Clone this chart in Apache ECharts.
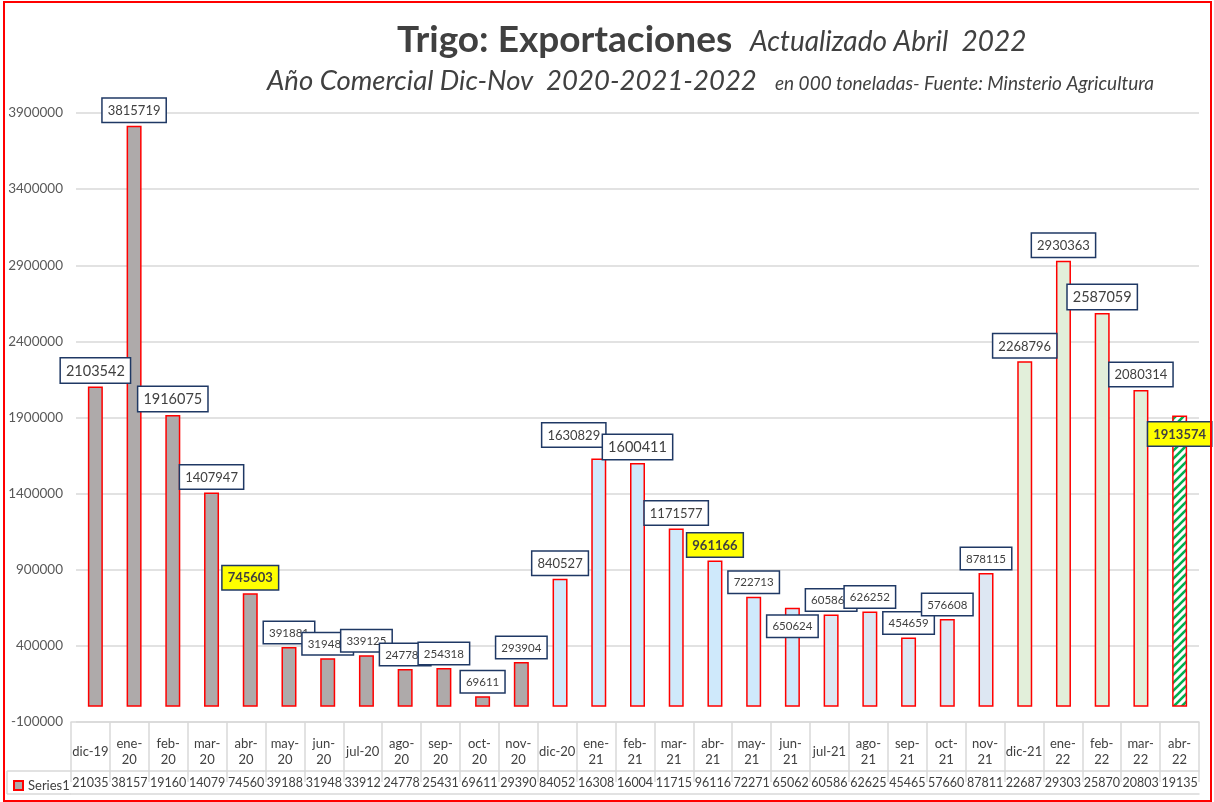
<!DOCTYPE html>
<html>
<head>
<meta charset="utf-8">
<script src="https://cdn.jsdelivr.net/npm/echarts@6/dist/echarts.min.js"></script>
<style>
html,body{margin:0;padding:0;background:#fff;}
#chart{width:1214px;height:802px;}
</style>
</head>
<body>
<div id="chart"></div>
<script>
// ---- data ----
const categories = ['dic-19','ene-20','feb-20','mar-20','abr-20','may-20','jun-20','jul-20','ago-20','sep-20','oct-20','nov-20',
  'dic-20','ene-21','feb-21','mar-21','abr-21','may-21','jun-21','jul-21','ago-21','sep-21','oct-21','nov-21',
  'dic-21','ene-22','feb-22','mar-22','abr-22'];
const values = [2103542,3815719,1916075,1407947,745603,391881,319483,339125,247785,254318,69611,293904,
  840527,1630829,1600411,1171577,961166,722713,650624,605863,626252,454659,576608,878115,
  2268796,2930363,2587059,2080314,1913574];
const seriesName = 'Series1';
const yTicks = { min: -100000, max: 3900000, interval: 500000 };

// ---- styles ----
const FONT = 'Lato, "Noto Sans", sans-serif';
const TXT = '#404040';
function fillFor(i) {
  if (i <= 11) return '#aeaaaa';
  if (i <= 18) return '#cfe9fb';
  if (i <= 23) return '#dde7f3';
  if (i <= 27) return '#e2efda';
  return null;
}
const big = [0, 2, 14, 26];
const medium = [1, 3, 12, 13, 15, 24, 25, 27];
const highlight = [4, 16, 28];
const labelTweaks = { 13: [-25, -8], 18: [0, 33], 28: [0, 34] };

// hatch pattern for the current (incomplete) month
const pc = document.createElement('canvas');
pc.width = 8; pc.height = 8;
const px = pc.getContext('2d');
px.fillStyle = '#ffffff'; px.fillRect(0, 0, 8, 8);
px.strokeStyle = '#00b050'; px.lineWidth = 2.6;
[[-8, 8, 8, -8], [0, 8, 8, 0], [0, 16, 16, 0]].forEach(function (l) {
  px.beginPath(); px.moveTo(l[0], l[1]); px.lineTo(l[2], l[3]); px.stroke();
});
const hatch = { image: pc, repeat: 'repeat' };

function labelFor(i) {
  let size = 11.5, lh = 14, pad = [4, 5, 3, 5];
  if (big.indexOf(i) >= 0) { size = 14.5; lh = 17; pad = [4, 5, 3, 5]; }
  else if (medium.indexOf(i) >= 0 || highlight.indexOf(i) >= 0) { size = 13; lh = 16; pad = [4, 5, 3, 5]; }
  const hl = highlight.indexOf(i) >= 0;
  return {
    show: true, position: 'top', distance: 4,
    offset: labelTweaks[i] || [0, 0],
    fontFamily: FONT, fontSize: size, lineHeight: lh,
    fontWeight: hl ? 'bold' : 'normal',
    color: TXT,
    backgroundColor: hl ? '#ffff00' : '#ffffff',
    borderColor: '#1f3864', borderWidth: 1.5,
    padding: pad
  };
}

const seriesData = values.map(function (v, i) {
  const f = fillFor(i);
  return { value: v, itemStyle: { color: f ? f : hatch }, label: labelFor(i) };
});
const tableValues = values.map(function (v) { return String(v).slice(0, 5); });

const gridLine = '#d9d9d9';
const chart = echarts.init(document.getElementById('chart'));
chart.setOption({
  animation: false,
  backgroundColor: '#ffffff',
  grid: [
    { left: 76, right: 15, top: 113, bottom: 80 },
    { left: 71, right: 15, top: 113, bottom: 80 }
  ],
  legend: {
    left: 8, top: 774, itemWidth: 9, itemHeight: 9, icon: 'rect',
    textStyle: { fontFamily: FONT, fontSize: 13, color: TXT },
    data: [seriesName]
  },
  xAxis: [
    { type: 'category', gridIndex: 0, data: categories, show: false },
    {
      type: 'category', gridIndex: 1, data: categories, position: 'bottom', offset: 12,
      axisLine: { show: true, lineStyle: { color: gridLine, width: 1.5 } },
      axisTick: { show: true, interval: 0, length: 60, lineStyle: { color: gridLine, width: 1.5 } },
      axisLabel: {
        interval: 0, margin: 18, verticalAlign: 'middle', fontFamily: FONT, fontSize: 13,
        lineHeight: 16, color: TXT,
        formatter: function (t) { return (t.indexOf('dic') === 0 || t.indexOf('jul') === 0) ? t : t.replace('-', '-\n'); }
      }
    },
    {
      type: 'category', gridIndex: 1, data: tableValues, position: 'bottom', offset: 49,
      axisLine: { show: true, lineStyle: { color: gridLine, width: 1.5 } },
      axisTick: { show: false },
      axisLabel: { interval: 0, margin: 12, verticalAlign: 'middle', fontFamily: FONT, fontSize: 12.5, color: TXT }
    },
    {
      type: 'category', gridIndex: 1, data: categories, position: 'bottom', offset: 72,
      axisLine: { show: true, lineStyle: { color: gridLine, width: 1.5 } },
      axisTick: { show: false }, axisLabel: { show: false }
    }
  ],
  yAxis: [
    {
      type: 'value', gridIndex: 0, min: yTicks.min, max: yTicks.max, interval: yTicks.interval,
      axisLine: { show: false }, axisTick: { show: false },
      splitLine: { lineStyle: { color: gridLine, width: 1.5 } },
      axisLabel: { margin: 13, fontFamily: FONT, fontSize: 13.5, color: '#595959',
        formatter: function (v) { return String(v); } }
    },
    { type: 'value', gridIndex: 1, show: false }
  ],
  series: [{
    name: seriesName, type: 'bar', xAxisIndex: 0, yAxisIndex: 0,
    barWidth: 15,
    itemStyle: { color: '#aeaaaa', borderColor: '#ff0000', borderWidth: 1.5 },
    data: seriesData
  }],
  graphic: [
    { type: 'text', x: 397, y: 40, style: { text: 'Trigo: Exportaciones', font: 'bold 37px ' + FONT, fill: TXT, verticalAlign: 'middle' } },
    { type: 'text', x: 750, y: 42, style: { text: 'Actualizado Abril  2022', font: 'italic 28px ' + FONT, fill: TXT, verticalAlign: 'middle' } },
    { type: 'text', x: 267, y: 81, style: { text: 'Año Comercial Dic-Nov  2020-2021-2022', font: 'italic 27.5px ' + FONT, fill: TXT, verticalAlign: 'middle' } },
    { type: 'text', x: 775, y: 84, style: { text: 'en 000 toneladas- Fuente: Minsterio Agricultura', font: 'italic 19px ' + FONT, fill: TXT, verticalAlign: 'middle' } },
    { type: 'line', shape: { x1: 7, y1: 771, x2: 71, y2: 771 }, style: { stroke: gridLine, lineWidth: 1.5 } },
    { type: 'line', shape: { x1: 7, y1: 794, x2: 71, y2: 794 }, style: { stroke: gridLine, lineWidth: 1.5 } },
    { type: 'line', shape: { x1: 7, y1: 771, x2: 7, y2: 794 }, style: { stroke: gridLine, lineWidth: 1.5 } },
    { type: 'rect', shape: { x: 4, y: 2, width: 1207, height: 799 }, style: { fill: 'none', stroke: '#ff0000', lineWidth: 2 }, z: 100 }
  ]
});
</script>
</body>
</html>
